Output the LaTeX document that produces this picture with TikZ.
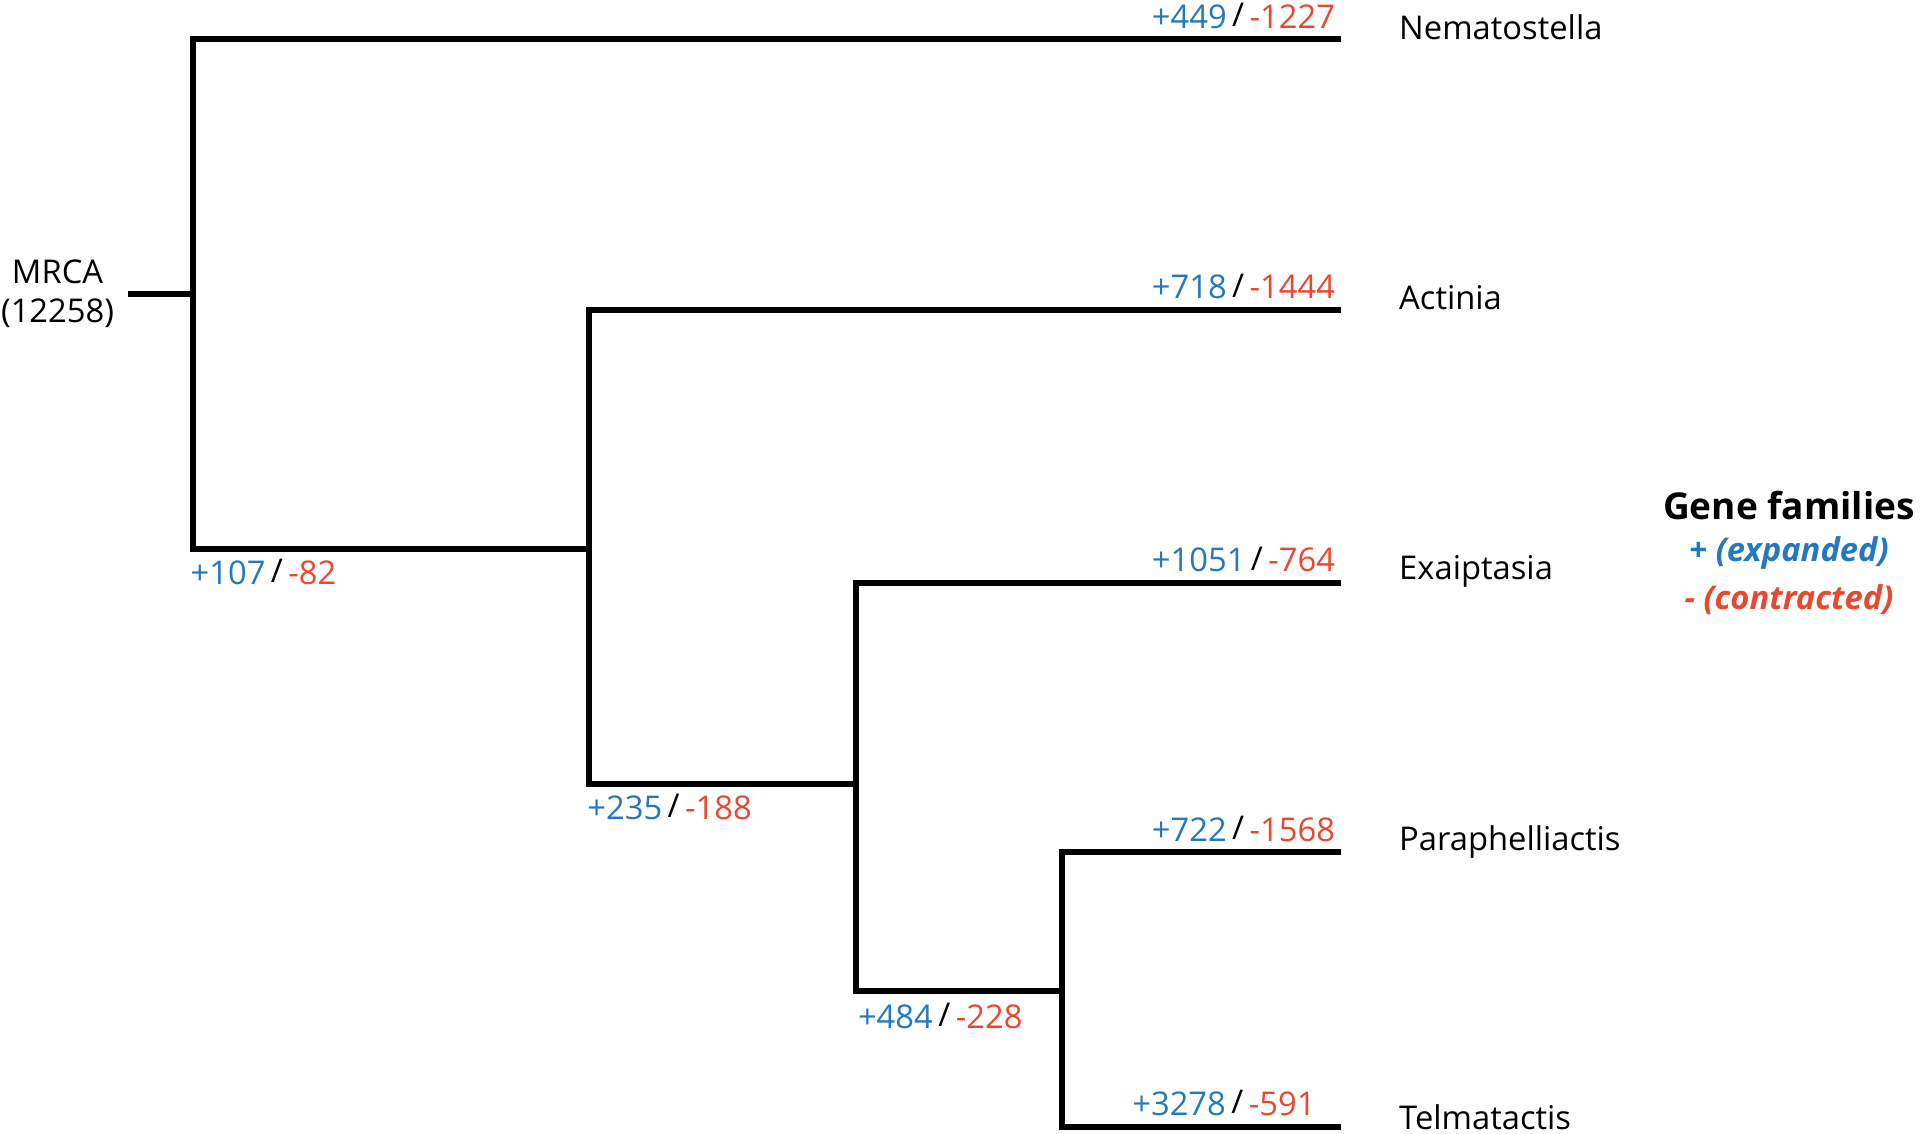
\documentclass[tikz,border=0pt]{standalone}
\usepackage{fontspec}
\setmainfont{Open Sans}
\definecolor{exp}{RGB}{35,120,190}
\definecolor{con}{RGB}{232,72,45}
\newcommand{\gc}[2]{\textcolor{exp}{+#1}\,\raisebox{0.1ex}{/}\,\textcolor{con}{-#2}}
\begin{document}
\begin{tikzpicture}[x=0.01cm,y=-0.01cm,
  br/.style={line width=1.4pt,line cap=rect},
  lab/.style={font=\fontsize{7.6}{9}\selectfont,inner sep=0pt},
  taxon/.style={font=\fontsize{7.6}{9}\selectfont,anchor=west,inner sep=0pt}]
\useasboundingbox (0,0) rectangle (1568,926);
% internal nodes
\coordinate (r0) at (107,240);
\coordinate (n1) at (158,240);
\coordinate (n1t) at (158,32);
\coordinate (n1b) at (158,448);
\coordinate (n2) at (481,448);
\coordinate (n2t) at (481,253);
\coordinate (n2b) at (481,640);
\coordinate (n3) at (699,640);
\coordinate (n3t) at (699,476);
\coordinate (n3b) at (699,809);
\coordinate (n4) at (867,809);
\coordinate (n4t) at (867,696);
\coordinate (n4b) at (867,920);
\coordinate (tNem) at (1093,32);
\coordinate (tAct) at (1093,253);
\coordinate (tExa) at (1093,476);
\coordinate (tPar) at (1093,696);
\coordinate (tTel) at (1093,920);
\draw[br] (r0) -- (n1);
\draw[br] (n1t) -- (n1b) -- (n2);
\draw[br] (n1t) -- (tNem);
\draw[br] (n2t) -- (n2b) -- (n3);
\draw[br] (n2t) -- (tAct);
\draw[br] (n3t) -- (n3b) -- (n4);
\draw[br] (n3t) -- (tExa);
\draw[br] (n4t) -- (n4b) -- (tTel);
\draw[br] (n4t) -- (tPar);
% root label
\node[lab,align=center] (mrca) at (47,240) {MRCA\\(12258)};
% branch labels
\node[lab,anchor=south east] (lNem) at (1091,24) {\gc{449}{1227}};
\node[lab,anchor=south east] (lAct) at (1091,245) {\gc{718}{1444}};
\node[lab,anchor=south east] (lExa) at (1091,468) {\gc{1051}{764}};
\node[lab,anchor=south east] (lPar) at (1091,688) {\gc{722}{1568}};
\node[lab,anchor=south east] (lTel) at (1075,912) {\gc{3278}{591}};
\node[lab,anchor=west] (l1) at (155,467) {\gc{107}{82}};
\node[lab,anchor=west] (l2) at (479,659) {\gc{235}{188}};
\node[lab,anchor=west] (l3) at (700,830) {\gc{484}{228}};
% taxa
\node[taxon] (Nem) at (1142,22) {Nematostella};
\node[taxon] (Act) at (1142,243) {Actinia};
\node[taxon] (Exa) at (1142,467) {Exaiptasia};
\node[taxon] (Par) at (1142,688) {Paraphelliactis};
\node[taxon] (Tel) at (1142,912) {Telmatactis};
% legend
\node[inner sep=0pt,font=\fontsize{8.6}{10}\selectfont\bfseries] (lg) at (1461,413) {Gene families};
\node[inner sep=0pt,font=\fontsize{7.6}{9}\selectfont\bfseries\itshape,text=exp] (le) at (1461,452) {+ (expanded)};
\node[inner sep=0pt,font=\fontsize{7.6}{9}\selectfont\bfseries\itshape,text=con] (lc) at (1461,490) {- (contracted)};
\end{tikzpicture}
\end{document}
